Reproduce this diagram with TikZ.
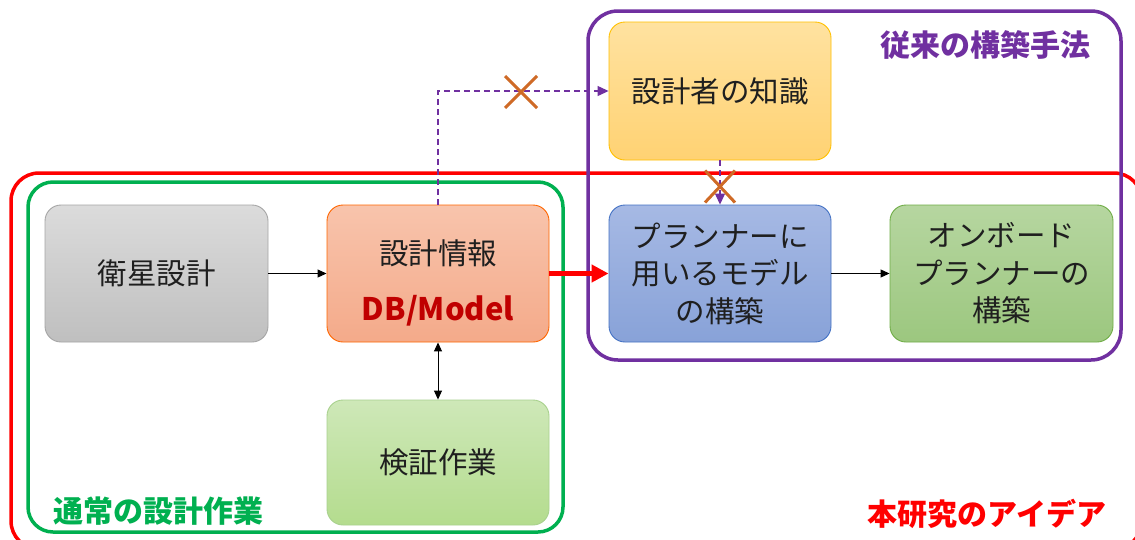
\documentclass[tikz,border=0pt]{standalone}
\usepackage{fontspec}
\setmainfont{Noto Sans CJK JP}
\usetikzlibrary{arrows.meta,calc}
\definecolor{cpurple}{HTML}{7030A0}
\definecolor{cgreen}{HTML}{00B050}
\definecolor{cred}{HTML}{FF0000}
\definecolor{cdbred}{HTML}{C00000}
\definecolor{ccross}{HTML}{CF6A26}
\tikzset{
  box/.style={draw, rounded corners=16pt, minimum width=#1, inner sep=0pt, line width=0.9pt},
  txt/.style={font=\fontsize{29.5}{37.5}\selectfont, align=center, text=black!88},
  grp/.style={line width=3.5pt, rounded corners=28pt},
  grplabel/.style={font=\fontsize{30}{34}\selectfont\bfseries},
  blk/.style={-{Triangle[length=9pt,width=8pt]}, line width=1pt, black},
  pdash/.style={cpurple, line width=1.2pt, dash pattern=on 6pt off 4pt, -{Triangle[length=11pt,width=10pt]}},
  crossline/.style={ccross, line width=3pt},
}
\begin{document}
\begin{tikzpicture}[x=1pt,y=-1pt]
\clip (0,0) rectangle (1135,539);
\fill[white] (0,0) rectangle (1135,539);
% group boxes
\draw[grp, cred] (11,173) rectangle (1142,549);
\draw[grp, cgreen, rounded corners=25pt] (28,182) rectangle (563,532);
\draw[grp, cpurple, rounded corners=30pt] (588,11) rectangle (1121,360);
% nodes
\node[box=223pt, minimum height=137pt, draw=black!35, top color=black!14, bottom color=black!25] (sat) at (156.5,273.5) {};
\node[txt] (satt) at (sat) {衛星設計};
\node[box=222pt, minimum height=137pt, draw=orange!80!red, top color={rgb,255:red,248;green,196;blue,172}, bottom color={rgb,255:red,244;green,170;blue,138}] (info) at (438,273.5) {};
\node[txt] (infot) at (438,253) {設計情報};
\node[font=\fontsize{31}{34}\selectfont\bfseries, text=cdbred] (infodb) at (438,311) {DB/Model};
\node[box=222pt, minimum height=125pt, draw={rgb,255:red,169;green,209;blue,142}, top color={rgb,255:red,206;green,232;blue,184}, bottom color={rgb,255:red,180;green,220;blue,142}] (ver) at (438,462.5) {};
\node[txt] (vert) at (ver) {検証作業};
\node[box=222pt, minimum height=138pt, draw={rgb,255:red,255;green,192;blue,0}, top color={rgb,255:red,255;green,226;blue,160}, bottom color={rgb,255:red,255;green,210;blue,115}] (know) at (720,91) {};
\node[txt] (knowt) at (know) {設計者の知識};
\node[box=222pt, minimum height=137pt, draw={rgb,255:red,68;green,114;blue,196}, top color={rgb,255:red,166;green,185;blue,228}, bottom color={rgb,255:red,136;green,162;blue,216}] (model) at (720,273.5) {};
\node[txt] (modelt) at (model) {プランナーに\\用いるモデル\\の構築};
\node[box=223pt, minimum height=137pt, draw={rgb,255:red,112;green,173;blue,71}, top color={rgb,255:red,182;green,214;blue,160}, bottom color={rgb,255:red,156;green,199;blue,127}] (onb) at (1001.5,273.5) {};
\node[txt] (onbt) at (onb) {オンボード\\プランナーの\\構築};
% labels
\node[grplabel, text=cpurple] (lblp) at (985,45) {従来の構築手法};
\node[grplabel, text=cgreen] (lblg) at (158,511) {通常の設計作業};
\node[grplabel, text=cred] (lblr) at (987,514) {本研究のアイデア};
% connectors
\draw[blk] (sat.east) -- (info.west);
\draw[blk] (model.east) -- (onb.west);
\draw[{Triangle[length=9pt,width=8pt]}-{Triangle[length=9pt,width=8pt]}, line width=1pt, black] (info.south) -- (ver.north);
\draw[cred, line width=5pt, -{Triangle[length=17pt,width=17pt]}] (info.east) -- (model.west);
\coordinate (bend) at (info.north |- know.west);
\draw[pdash] (info.north) -- (bend) -- (know.west);
\draw[pdash] (know.south) -- (model.north);
% crosses
\coordinate (c1) at (521,92);
\coordinate (c2) at (720,186.5);
\draw[crossline] ($(c1)+(-16,-16)$) -- ($(c1)+(16,16)$);
\draw[crossline] ($(c1)+(16,-16)$) -- ($(c1)+(-16,16)$);
\draw[crossline] ($(c2)+(-15,-16)$) -- ($(c2)+(15,16)$);
\draw[crossline] ($(c2)+(15,-16)$) -- ($(c2)+(-15,16)$);
\end{tikzpicture}
\end{document}
